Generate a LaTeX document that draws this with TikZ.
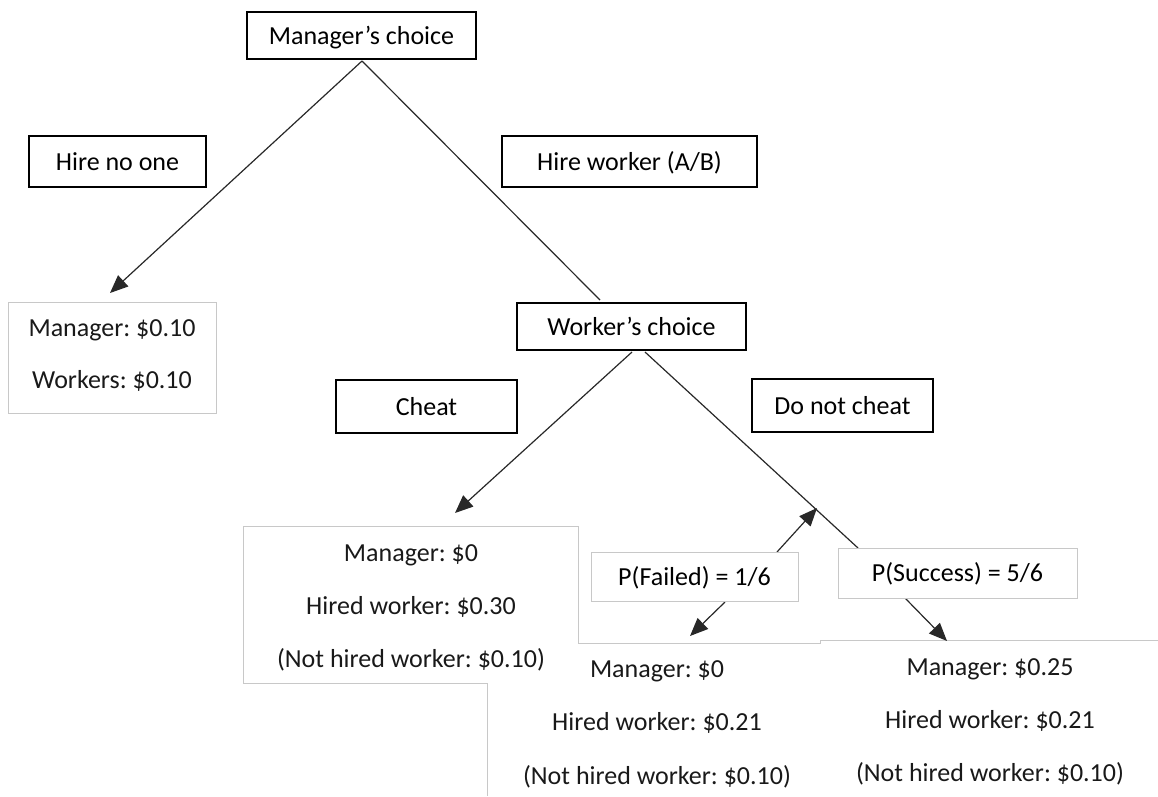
\documentclass[tikz,border=0pt]{standalone}
\usepackage{fontspec}
\setmainfont{Carlito}
\usetikzlibrary{arrows.meta,calc}
\definecolor{boxgray}{RGB}{200,200,200}
\definecolor{linec}{RGB}{40,40,40}
\frenchspacing
\begin{document}
\begin{tikzpicture}[x=1pt,y=-1pt,
  font=\fontsize{26}{31}\selectfont\frenchspacing,
  choicebox/.style={draw=black,fill=white,line width=2pt,inner sep=0pt,text height=17pt,text depth=0pt},
  probbox/.style={draw=boxgray,fill=white,line width=1pt,inner sep=0pt,text height=17pt,text depth=0pt},
  payoff/.style={anchor=base,inner sep=0pt,text=black!90},
  conn/.style={draw=linec,line width=1.2pt},
  arr/.style={conn,-{Triangle[length=18pt,width=15pt]}},
  gline/.style={draw=boxgray,line width=1pt}]
\useasboundingbox (0,0) rectangle (1158,796);

% payoff box outlines
\node[draw=boxgray,line width=1pt,minimum width=208pt,minimum height=111pt,inner sep=0pt] (mp) at (112,357.5) {};
\draw[gline] (243,683) -- (243,526) -- (578,526) -- (578,643) -- (820,643) -- (820,640) -- (1158,640);
\draw[gline] (243,683) -- (487,683) -- (487,796);

% connector end points
\coordinate (mcapex) at (362,61);
\coordinate (tnone) at (110,293);
\coordinate (twc) at (600,300);
\coordinate (wcl) at (632,352);
\coordinate (wcr) at (645,352);
\coordinate (tcheat) at (455,513);
\coordinate (tdn) at (858,548);
\coordinate (pfup) at (777,552);
\coordinate (tjoin) at (817,508);
\coordinate (pfdown) at (725,602);
\coordinate (tfail) at (690,636);
\coordinate (psdown) at (905,598);
\coordinate (tsucc) at (947,641);

% connectors
\draw[arr] (mcapex) -- (tnone);
\draw[conn] (mcapex) -- (twc);
\draw[arr] (wcl) -- (tcheat);
\draw[conn] (wcr) -- (tdn);
\draw[arr] (pfup) -- (tjoin);
\draw[arr] (pfdown) -- (tfail);
\draw[arr] (psdown) -- (tsucc);

% boxes
\node[choicebox,minimum width=229pt,minimum height=47pt] (mc) at (361.5,35.5) {Manager’s choice};
\node[choicebox,minimum width=177pt,minimum height=51pt] (hn) at (117.5,161.5) {Hire no one};
\node[choicebox,minimum width=255pt,minimum height=51pt] (hw) at (629.5,161.5) {Hire worker (A/B)};
\node[choicebox,minimum width=229pt,minimum height=47pt] (wc) at (631.5,326.5) {Worker’s choice};
\node[choicebox,minimum width=181pt,minimum height=53pt] (ch) at (426.5,406.5) {Cheat};
\node[choicebox,minimum width=181pt,minimum height=53pt] (dn) at (842.5,405.5) {Do not cheat};
\node[probbox,minimum width=207pt,minimum height=49pt] (pf) at (694.5,576.5) {P(Failed) = 1/6};
\node[probbox,minimum width=239pt,minimum height=50pt] (ps) at (957.5,573) {P(Success) = 5/6};

% payoffs
\node[payoff] (mp1) at (112,336) {Manager: \$0.10};
\node[payoff] (mp2) at (112,388) {Workers: \$0.10};
\node[payoff] (cp1) at (411,561) {Manager: \$0};
\node[payoff] (cp2) at (411,614) {Hired worker: \$0.30};
\node[payoff] (cp3) at (411,667) {(Not hired worker: \$0.10)};
\node[payoff] (fp1) at (657,677) {Manager: \$0};
\node[payoff] (fp2) at (657,730) {Hired worker: \$0.21};
\node[payoff] (fp3) at (657,784) {(Not hired worker: \$0.10)};
\node[payoff] (sp1) at (990,675) {Manager: \$0.25};
\node[payoff] (sp2) at (990,728) {Hired worker: \$0.21};
\node[payoff] (sp3) at (990,781) {(Not hired worker: \$0.10)};
\end{tikzpicture}
\end{document}
